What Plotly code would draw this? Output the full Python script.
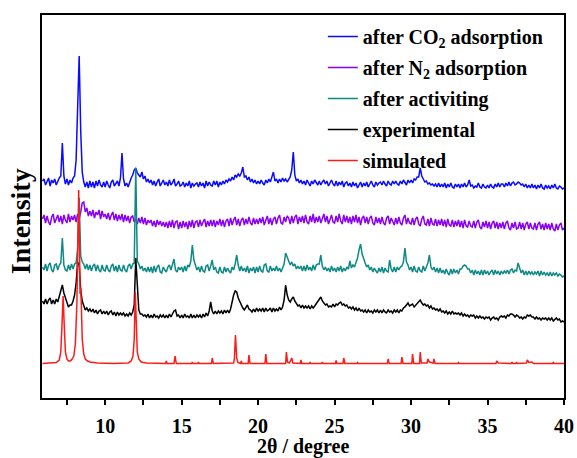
import numpy as np
import plotly.graph_objects as go

# 2-theta sampling grid of the measured patterns (5.9 ... 40.0 deg, step 0.1)
two_theta = np.round(5.9 + 0.1 * np.arange(342), 1)

labels = ["after CO<sub>2</sub> adsorption", "after N<sub>2</sub> adsorption",
          "after activiting", "experimental", "simulated"]
colors = ["#0a0aff", "#8a00f0", "#0e8a86", "#000000", "#ff1a1a"]

after_co2 = [
 9,
 11, 5, 9, 12, 4, 10, 7, 11, 5, 9,         # 6
 12, 14, 47, 14, 6, 11, 5, 10, 7, 12,      # 7
 14, 30, 85, 134, 60, 18, 8, 3, 8, 2,      # 8
 9, 3, 8, 2, 9, 4, 10, 5, 3, 8,            # 9
 3, 9, 5, 2, 8, 10, 4, 7, 9, 4,            # 10
 12, 37, 11, 4, 7, 3, 9, 12, 15, 20,       # 11
 22, 17, 15, 13, 18, 11, 14, 8, 11, 7,     # 12
 10, 5, 9, 4, 8, 11, 4, 8, 10, 5,          # 13
 8, 4, 10, 5, 7, 11, 4, 6, 9, 4,           # 14
 5, 8, 3, 7, 4, 9, 2, 7, 4, 6,             # 15
 7, 3, 8, 4, 7, 2, 9, 4, 8, 5,             # 16
 4, 9, 5, 9, 3, 8, 5, 9, 6, 10,            # 17
 8, 11, 9, 13, 10, 15, 13, 16, 14, 17,     # 18
 23, 13, 14, 10, 13, 8, 11, 7, 10, 6,      # 19
 9, 6, 10, 7, 5, 10, 7, 11, 8, 13,         # 20
 18, 9, 11, 7, 11, 8, 12, 9, 11, 8,        # 21
 11, 13, 20, 38, 15, 9, 11, 7, 10, 6,      # 22
 9, 5, 10, 7, 4, 9, 6, 10, 7, 5,           # 23
 9, 5, 8, 10, 6, 9, 4, 8, 10, 6,           # 24
 4, 9, 4, 8, 5, 9, 3, 7, 8, 4,             # 25
 7, 3, 8, 4, 7, 2, 6, 8, 3, 7,             # 26
 4, 8, 3, 7, 9, 5, 3, 8, 5, 7,             # 27
 8, 5, 9, 6, 4, 9, 6, 5, 9, 6,             # 28
 9, 6, 5, 9, 6, 10, 7, 5, 10, 7,           # 29
 10, 7, 11, 10, 13, 13, 22, 14, 11, 8,     # 30
 9, 6, 7, 5, 6, 4, 6, 3, 7, 3,             # 31
 6, 3, 7, 2, 6, 3, 7, 3, 2, 6,             # 32
 3, 6, 2, 6, 3, 7, 3, 5, 10, 4,            # 33
 5, 2, 4, 3, 7, 3, 2, 6, 3, 2,             # 34
 5, 2, 6, 3, 2, 6, 3, 7, 3, 6,             # 35
 6, 3, 7, 4, 8, 4, 7, 8, 5, 6,             # 36
 8, 7, 5, 6, 3, 6, 2, 5, 2, 6,             # 37
 2, 5, 1, 5, 2, 6, 2, 1, 5, 2,             # 38
 4, 1, 5, 2, 6, 2, 1, 4, 3, 1,             # 39
 2,
]

after_n2 = [
 11,
 15, 7, 14, 8, 5, 13, 16, 7, 12, 15,       # 6
 8, 14, 6, 15, 10, 7, 16, 8, 14, 10,       # 7
 15, 8, 16, 11, 18, 27, 28, 18, 22, 14,    # 8
 19, 14, 20, 12, 18, 15, 20, 11, 19, 13,   # 9
 16, 11, 17, 10, 15, 18, 10, 16, 9, 15,    # 10
 10, 16, 8, 15, 9, 14, 7, 13, 14, 8,       # 11
 11, 6, 12, 7, 13, 6, 12, 5, 10, 7,        # 12
 10, 4, 9, 3, 10, 5, 9, 4, 8, 3,           # 13
 8, 2, 9, 3, 10, 2, 8, 9, 1, 8,            # 14
 2, 9, 3, 8, 1, 9, 3, 10, 2, 8,            # 15
 9, 3, 10, 4, 8, 11, 3, 9, 4, 10,          # 16
 4, 10, 3, 9, 5, 11, 4, 10, 3, 9,          # 17
 11, 4, 12, 5, 10, 13, 5, 11, 4, 10,       # 18
 12, 5, 11, 6, 13, 7, 5, 12, 6, 11,        # 19
 6, 12, 7, 13, 5, 11, 14, 6, 12, 5,        # 20
 11, 13, 6, 12, 15, 7, 6, 13, 8, 14,       # 21
 12, 6, 14, 7, 13, 15, 6, 13, 8, 14,       # 22
 7, 15, 8, 6, 14, 8, 16, 7, 13, 8,         # 23
 14, 7, 13, 16, 8, 14, 6, 12, 15, 8,       # 24
 7, 14, 8, 16, 9, 6, 15, 8, 14, 7,         # 25
 13, 6, 14, 8, 15, 7, 13, 5, 12, 14,       # 26
 7, 13, 6, 12, 14, 7, 5, 13, 7, 12,        # 27
 6, 13, 7, 5, 12, 14, 6, 12, 8, 5,         # 28
 12, 6, 13, 7, 5, 12, 15, 6, 12, 7,        # 29
 6, 12, 5, 11, 13, 6, 4, 11, 14, 6,        # 30
 5, 11, 4, 12, 6, 5, 11, 4, 10, 5,         # 31
 11, 4, 10, 3, 11, 5, 4, 10, 3, 9,         # 32
 4, 10, 3, 9, 2, 10, 4, 3, 9, 4,           # 33
 3, 9, 2, 8, 10, 3, 1, 8, 3, 9,            # 34
 2, 8, 1, 7, 9, 2, 8, 1, 7, 2,             # 35
 8, 1, 7, 9, 2, 0, 7, 2, 8, 1,             # 36
 2, 8, 1, 7, 0, 6, 8, 1, 7, 2,             # 37
 1, 7, 0, 6, 8, 1, 6, 0, 7, 1,             # 38
 6, 0, 7, 1, -1, 6, 0, 5, 7, 0,            # 39
 2,
]

after_activiting = [
 11,
 8, 14, 7, 13, 15, 8, 6, 13, 14, 8,        # 6
 13, 15, 40, 13, 8, 7, 13, 8, 14, 9,       # 7
 14, 15, 30, 80, 22, 16, 14, 9, 14, 8,     # 8
 13, 7, 12, 14, 7, 13, 8, 6, 13, 8,        # 9
 7, 13, 8, 6, 12, 14, 7, 12, 6, 13,        # 10
 8, 7, 13, 8, 6, 12, 14, 9, 14, 15,        # 11
 110, 17, 14, 9, 12, 7, 10, 6, 11, 6,      # 12
 11, 5, 12, 6, 11, 13, 6, 5, 11, 8,        # 13
 6, 11, 13, 8, 14, 19, 8, 6, 11, 8,        # 14
 11, 6, 12, 7, 13, 11, 17, 33, 18, 13,     # 15
 8, 11, 6, 12, 7, 6, 12, 13, 7, 12,        # 16
 18, 8, 11, 6, 5, 11, 6, 5, 11, 6,         # 17
 10, 7, 5, 11, 8, 14, 23, 13, 7, 12,       # 18
 7, 10, 6, 12, 5, 10, 7, 11, 5, 11,        # 19
 6, 12, 7, 6, 13, 14, 7, 6, 12, 7,         # 20
 10, 7, 12, 7, 10, 6, 11, 14, 25, 20,      # 21
 17, 13, 16, 12, 14, 9, 12, 9, 12, 7,      # 22
 12, 7, 13, 8, 11, 7, 13, 8, 13, 14,       # 23
 14, 23, 12, 8, 11, 7, 10, 6, 12, 7,       # 24
 10, 6, 11, 7, 12, 6, 10, 7, 11, 9,        # 25
 17, 10, 13, 11, 16, 20, 28, 34, 24, 18,   # 26
 15, 11, 13, 8, 11, 6, 10, 7, 5, 10,       # 27
 6, 11, 5, 10, 7, 6, 18, 9, 6, 11,         # 28
 6, 11, 8, 11, 12, 16, 30, 16, 13, 8,      # 29
 11, 6, 12, 7, 6, 11, 7, 6, 12, 7,         # 30
 11, 15, 23, 11, 8, 11, 6, 10, 5, 10,      # 31
 5, 8, 4, 9, 5, 3, 9, 4, 9, 5,             # 32
 8, 4, 9, 9, 12, 13, 12, 9, 9, 5,          # 33
 8, 3, 8, 4, 7, 3, 8, 3, 8, 4,             # 34
 7, 3, 6, 8, 3, 8, 4, 7, 3, 7,             # 35
 4, 7, 5, 8, 4, 8, 9, 5, 8, 7,             # 36
 15, 9, 5, 8, 3, 7, 3, 7, 4, 6,            # 37
 3, 6, 4, 7, 2, 7, 3, 6, 3, 5,             # 38
 2, 6, 2, 5, 3, 5, 2, 4, 3, 1,             # 39
 2,
]

experimental = [
 22,
 19, 24, 19, 23, 25, 19, 23, 19, 24, 21,   # 6
 27, 33, 38, 30, 25, 19, 16, 18, 18, 22,   # 7
 28, 40, 61, 58, 33, 22, 16, 13, 15, 12,   # 8
 14, 11, 14, 10, 13, 9, 12, 13, 9, 12,     # 9
 9, 12, 8, 11, 12, 8, 11, 7, 11, 8,        # 10
 10, 8, 10, 7, 9, 7, 10, 8, 11, 18,        # 11
 65, 33, 13, 9, 9, 7, 8, 6, 9, 5,          # 12
 8, 5, 9, 6, 7, 5, 8, 6, 8, 5,             # 13
 8, 5, 9, 6, 10, 12, 13, 7, 8, 5,          # 14
 8, 5, 9, 6, 7, 5, 9, 5, 8, 5,             # 15
 8, 6, 8, 5, 9, 6, 10, 7, 12, 21,          # 16
 12, 9, 12, 9, 12, 10, 12, 9, 13, 10,      # 17
 13, 10, 14, 23, 28, 32, 31, 25, 21, 17,   # 18
 15, 13, 16, 18, 14, 13, 11, 14, 11, 15,   # 19
 12, 14, 12, 15, 11, 15, 12, 13, 15, 11,   # 20
 15, 12, 14, 12, 16, 13, 16, 23, 38, 28,   # 21
 23, 21, 24, 26, 22, 19, 17, 18, 15, 18,   # 22
 15, 17, 15, 17, 14, 17, 15, 17, 19, 22,   # 23
 24, 26, 22, 20, 18, 19, 16, 17, 16, 19,   # 24
 16, 19, 18, 20, 21, 18, 19, 17, 18, 15,   # 25
 16, 14, 16, 13, 15, 12, 15, 12, 13, 11,   # 26
 13, 10, 13, 11, 12, 10, 13, 11, 13, 10,   # 27
 13, 10, 13, 11, 10, 13, 11, 12, 10, 13,   # 28
 11, 13, 10, 13, 12, 15, 16, 18, 20, 17,   # 29
 18, 19, 16, 18, 20, 22, 23, 20, 18, 19,   # 30
 17, 18, 15, 17, 14, 15, 13, 14, 12, 14,   # 31
 11, 12, 10, 12, 9, 11, 9, 12, 9, 10,      # 32
 9, 10, 8, 10, 7, 9, 7, 8, 6, 8,           # 33
 7, 8, 5, 7, 5, 7, 5, 6, 4, 6,             # 34
 5, 6, 3, 5, 6, 4, 5, 3, 6, 7,             # 35
 6, 7, 5, 8, 7, 9, 9, 8, 6, 8,             # 36
 7, 5, 6, 4, 6, 5, 8, 7, 8, 6,             # 37
 6, 4, 6, 4, 5, 3, 5, 4, 5, 3,             # 38
 5, 3, 5, 2, 4, 5, 3, 4, 1, 2,             # 39
 1,
]

# simulated pattern: (2theta, intensity) points
sim_theta = [5.9, 6.5, 6.8, 7.0, 7.1, 7.18, 7.25, 7.32, 7.4, 7.5, 7.6, 7.7, 7.8, 7.95,
             8.05, 8.15, 8.22, 8.27, 8.32, 8.36, 8.4, 8.44, 8.5, 8.6, 8.7, 8.85, 9.0,
             9.5, 10.5, 11.5, 11.7, 11.82, 11.9, 11.97, 12.03, 12.1, 12.2, 12.35, 12.7,
             13.5, 13.95, 14.0, 14.05, 14.5, 14.57, 14.65, 15.65, 15.7, 15.75, 16.05,
             16.1, 16.15, 16.95, 17.0, 17.07, 18.4, 18.45, 18.52, 18.6, 18.68, 18.85,
             18.9, 18.95, 19.35, 19.4, 19.47, 20.45, 20.5, 20.57, 21.8, 21.85, 21.92,
             22.05, 22.2, 22.27, 22.75, 22.8, 22.85, 23.35, 23.4, 23.45, 24.15, 24.2,
             24.25, 25.05, 25.1, 25.15, 25.55, 25.6, 25.67, 26.45, 26.5, 26.55, 28.45,
             28.5, 28.57, 29.35, 29.4, 29.47, 30.05, 30.1, 30.17, 30.55, 30.6, 30.67,
             31.05, 31.1, 31.2, 31.45, 31.5, 31.57, 33.05, 33.1, 33.15, 35.55, 35.6,
             35.7, 36.55, 36.6, 36.65, 36.85, 36.9, 36.95, 37.55, 37.6, 37.7, 37.9,
             38.0, 39.25, 39.3, 39.35, 40.0]
sim_int = [0.5, 0.8, 1.5, 4, 12, 40, 68, 40, 12, 5, 3, 3, 4, 8,
           20, 60, 150, 174, 120, 70, 76, 60, 25, 10, 5, 3, 2,
           1, 0.5, 1, 3, 8, 25, 72, 45, 12, 5, 2, 1,
           0.5, 0.5, 3, 0.5, 0.5, 8, 0.5, 0.5, 2, 0.5, 0.5,
           2, 0.5, 0.5, 6, 0.5, 1, 5, 29, 6, 1.5, 0.5,
           3, 0.5, 0.5, 9, 0.5, 0.5, 10, 0.5, 0.5, 12, 2,
           1, 6, 1, 0.5, 4, 0.5, 0.5, 1.5, 0.5, 0.5, 2,
           0.5, 0.5, 3.5, 0.5, 0.5, 6, 0.5, 0.5, 1.5, 0.5, 0.5,
           5, 0.5, 0.5, 7, 0.5, 0.5, 10, 0.5, 0.5, 12, 1,
           1, 5, 2, 1, 5, 0.5, 0.5, 1.5, 0.5, 0.5, 3,
           1, 0.5, 2, 0.5, 0.5, 2, 0.5, 1, 4, 1.5, 2,
           0.5, 0.5, 2, 0.5, 0.5]

# vertical stacking offsets (a.u.)
offsets = [208, 168, 120, 75, 34]

assert len(after_co2) == len(two_theta), len(after_co2)
assert len(after_n2) == len(two_theta), len(after_n2)
assert len(after_activiting) == len(two_theta), len(after_activiting)
assert len(experimental) == len(two_theta), len(experimental)
assert len(sim_theta) == len(sim_int)

series = [
    (two_theta, after_co2),
    (two_theta, after_n2),
    (two_theta, after_activiting),
    (two_theta, experimental),
    (sim_theta, sim_int),
]

serif = "Liberation Serif"

fig = go.Figure()
for i, ((xs, ys), name, col, off) in enumerate(zip(series, labels, colors, offsets)):
    fig.add_trace(go.Scatter(
        x=list(xs), y=[v + off for v in ys], mode="lines", name=name,
        legendgroup=f"g{i}",
        line=dict(color=col, width=1.5),
    ))

fig.update_layout(
    width=577, height=458,
    margin=dict(l=42, r=13, t=15, b=60, autoexpand=False),
    paper_bgcolor="white", plot_bgcolor="white",
    font=dict(family=serif, size=20, color="black", weight="bold"),
    showlegend=True,
    legend=dict(x=0.538, y=0.995, xanchor="left", yanchor="top",
                bgcolor="rgba(0,0,0,0)", tracegroupgap=2,
                font=dict(family=serif, size=20, color="black", weight="bold")),
    xaxis=dict(range=[5.87, 40], showline=True, linewidth=2, linecolor="black",
               mirror=True, ticks="outside", ticklen=5, tickwidth=1.5,
               tickcolor="black", dtick=5, tick0=0, showgrid=False, zeroline=False,
               automargin=False, ticklabelstandoff=4,
               minor=dict(dtick=2.5, tick0=0, ticks="outside", ticklen=5,
                          tickwidth=1.5, tickcolor="black", showgrid=False),
               tickfont=dict(family=serif, size=20, color="black", weight="bold")),
    yaxis=dict(range=[0, 383], showline=True, linewidth=2, linecolor="black",
               mirror=True, ticks="", showticklabels=False, showgrid=False,
               zeroline=False, automargin=False),
    annotations=[
        dict(text="Intensity", textangle=-90, xref="paper", yref="paper",
             x=-0.042, y=0.462, xanchor="center", yanchor="middle",
             showarrow=False,
             font=dict(family=serif, size=28, color="black", weight="bold")),
        dict(text="2θ / degree", xref="paper", yref="paper",
             x=0.5, y=-0.127, xanchor="center", yanchor="middle",
             showarrow=False,
             font=dict(family=serif, size=20, color="black", weight="bold")),
    ],
)

fig.write_html("out.html")
